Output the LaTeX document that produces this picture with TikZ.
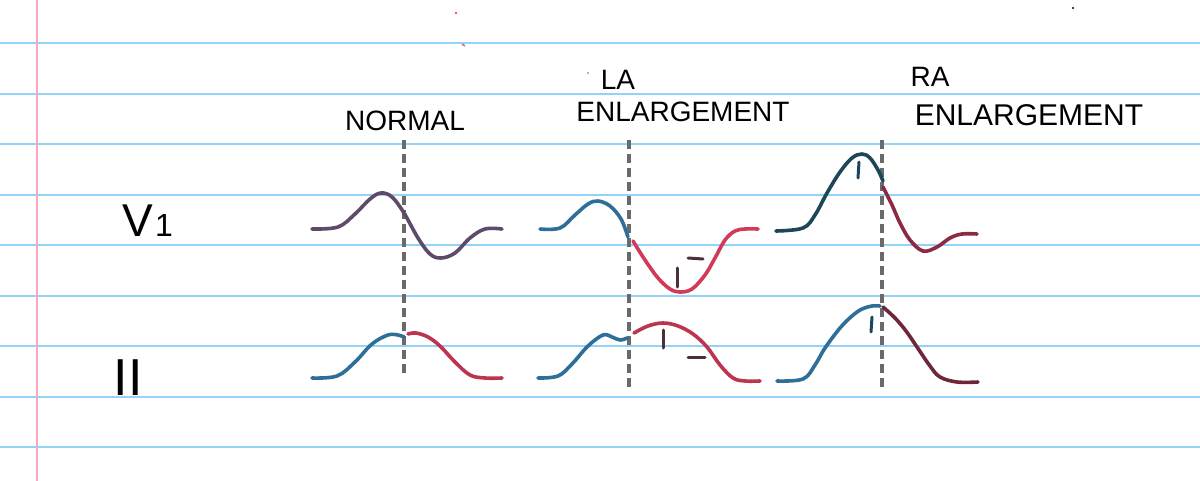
\documentclass[tikz,border=0pt]{standalone}
\usepackage{fontspec}
\setmainfont{Liberation Sans}
\definecolor{rule}{HTML}{93D4F6}
\definecolor{margin}{HTML}{F4A8C2}
\definecolor{nvone}{HTML}{5E4A6A}
\definecolor{wblue}{HTML}{2D6F98}
\definecolor{wred}{HTML}{BC3450}
\definecolor{lared}{HTML}{D13A5A}
\definecolor{lamark}{HTML}{4A3038}
\definecolor{rateal}{HTML}{1D4659}
\definecolor{rared}{HTML}{8C2A42}
\definecolor{raiired}{HTML}{6D2738}
\definecolor{dashgray}{HTML}{6A6A6A}
\tikzset{
  ruleline/.style={rule, line width=1pt},
  wave/.style={line width=1.8pt, line cap=round, line join=round},
  guide/.style={dashgray, line width=1.7pt, dash pattern=on 4.5pt off 2.5pt},
  tick/.style={line width=1.5pt, line cap=round},
  lbl/.style={inner sep=0pt, font=\fontsize{14}{14}\selectfont},
}
\begin{document}
\begin{tikzpicture}[x=0.5pt, y=-0.5pt]
\useasboundingbox[fill=white] (0,0) rectangle (1200,481);
% paper rules
\foreach \yy in {43,94,144,195,245,296,346,397,447}
  \draw[ruleline] (0,\yy) -- (1200,\yy);
\draw[margin, line width=1pt] (37,0) -- (37,481);
% stray marks
\fill[wred] (456,13) circle (1.2);
\draw[wred!70, line width=0.8pt] (462,44) -- (465,46);
\fill[black!60] (588,73) circle (0.9);
\fill[black] (1073,8) circle (1.1);
% labels
\node[lbl] (normal) at (405,121) {NORMAL};
\node[lbl] (la) at (618,80) {LA};
\node[lbl] (laenl) at (683,112) {ENLARGEMENT};
\node[lbl] (ra) at (930,77) {RA};
\node[lbl, font=\fontsize{15}{15}\selectfont] (raenl) at (1029,115) {ENLARGEMENT};
\node[inner sep=0pt, anchor=base west] (vone) at (122,236) {{\fontsize{23}{23}\selectfont V}\hspace{1pt}{\fontsize{16}{16}\selectfont 1}};
\node[inner sep=0pt, anchor=base] (lead2) at (128,395) {\fontsize{26}{26}\selectfont II};
% guide lines
\draw[guide] (404,140) -- (404,378);
\draw[guide] (629,140) -- (629,388);
\draw[guide] (882,140) -- (882,388);
% NORMAL
\draw[wave, nvone] plot[smooth, tension=0.6] coordinates {(312,229) (338,227) (355,214) (370,199) (381,193) (392,197) (404,213) (418,238) (430,254) (441,258) (455,253) (470,238) (485,229) (502,229)};
\draw[wave, wblue] plot[smooth, tension=0.6] coordinates {(312,378) (337,376) (355,362) (372,344) (388,335) (398,335) (404,337)};
\draw[wave, wred] plot[smooth, tension=0.6] coordinates {(408,334) (416,333) (428,337) (440,346) (455,362) (470,375) (485,378) (502,378)};
% LA ENLARGEMENT
\draw[wave, wblue] plot[smooth, tension=0.6] coordinates {(540,229) (560,228) (575,215) (588,204) (598,201) (610,206) (621,219) (628,237)};
\draw[wave, lared] plot[smooth, tension=0.6] coordinates {(633,241) (645,260) (658,278) (670,289) (680,292) (692,289) (705,275) (715,258) (725,240) (735,231) (745,229) (758,229)};
\draw[tick, lamark] (677,268) -- (677,287);
\draw[tick, lamark] (688,258) -- (703,259);
\draw[wave, wblue] plot[smooth, tension=0.6] coordinates {(538,378) (558,376) (572,364) (588,346) (603,335) (612,337) (620,340) (627,338)};
\draw[wave, wred] plot[smooth, tension=0.6] coordinates {(634,333) (648,326) (663,323) (678,326) (693,334) (707,347) (720,365) (733,378) (745,381) (760,381)};
\draw[tick, lamark] (663,330) -- (663,348);
\draw[tick, lamark] (688,357) -- (705,357);
% RA ENLARGEMENT
\draw[wave, rateal] plot[smooth, tension=0.6] coordinates {(776,231) (803,228) (815,215) (827,193) (840,172) (852,158) (862,154) (870,158) (878,170) (883,181)};
\draw[wave, rared] plot[smooth, tension=0.6] coordinates {(883,187) (892,205) (900,223) (910,240) (923,251) (937,247) (950,238) (962,234) (977,234)};
\draw[tick, rateal] (859,162) -- (858,178);
\draw[wave, wblue] plot[smooth, tension=0.6] coordinates {(777,381) (803,379) (815,365) (825,348) (840,328) (852,316) (862,309) (872,306) (880,306)};
\draw[wave, raiired] plot[smooth, tension=0.6] coordinates {(883,307) (895,318) (906,331) (917,347) (930,366) (940,377) (957,382) (978,382)};
\draw[tick, rateal] (872,317) -- (871,332);
\end{tikzpicture}
\end{document}
